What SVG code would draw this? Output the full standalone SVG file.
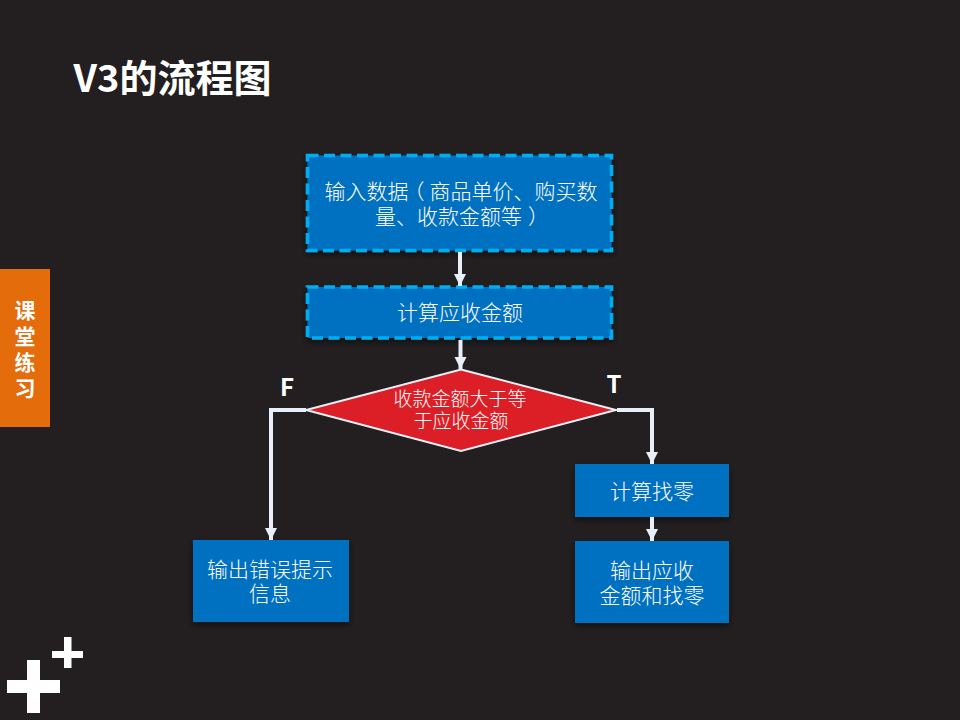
<svg xmlns="http://www.w3.org/2000/svg" width="960" height="720" viewBox="0 0 960 720">
<defs>
<filter id="sh" x="-10%" y="-20%" width="120%" height="140%"><feDropShadow dx="0" dy="3" stdDeviation="3" flood-color="#000" flood-opacity="0.5"/></filter>
<marker id="ah" markerUnits="userSpaceOnUse" markerWidth="14" markerHeight="14" refX="12" refY="7" orient="auto"><path d="M0 1L12 7L0 13Z" fill="#e9eff8"/></marker>
</defs>
<style>
text{font-family:"Noto Sans CJK SC","Liberation Sans",sans-serif;fill:#fff;text-anchor:middle}
.b{fill:#0070c0;filter:url(#sh)}
.d{stroke:#00aeef;stroke-width:3.500;stroke-dasharray:11 5.500}
.t{font-size:21px;font-weight:300}
.l{font-size:24px;font-weight:700}
.s{font-size:21px;font-weight:700}
.c{fill:none;stroke:#e9eff8;stroke-width:4;marker-end:url(#ah)}
</style>
<rect width="960" height="720" fill="#231f20"/>
<text id="title" x="172.500" y="92" font-size="38" font-weight="700">V3的流程图</text>
<g id="side"><rect x="0" y="269" width="50" height="158" fill="#e46c0a"/>
<text class="s" x="25" y="318">课</text><text class="s" x="25" y="344">堂</text><text class="s" x="25" y="370">练</text><text class="s" x="25" y="396">习</text></g>
<g id="n1"><rect class="b d" x="307.500" y="155.500" width="304" height="95"/>
<text class="t" x="461" y="199">输入数据<tspan dx="-5">（</tspan><tspan dx="5">商品单价、购买数</tspan></text><text class="t" x="462" y="224">量、收款金额等<tspan dx="6">）</tspan></text></g>
<g id="n2"><rect class="b d" x="307.500" y="287" width="304" height="51"/>
<text class="t" x="460" y="320">计算应收金额</text></g>
<g id="n3"><path d="M461 369.500L616 410L461 451L306 410Z" fill="#dc1f26" stroke="#e9eff8" stroke-width="2"/>
<text x="460" y="406" font-size="19" font-weight="300">收款金额大于等</text><text x="461" y="428" font-size="19" font-weight="300">于应收金额</text></g>
<text class="l" x="287" y="396">F</text>
<text class="l" x="614" y="393">T</text>
<g id="n4"><rect class="b" x="193" y="540" width="156" height="82"/>
<text class="t" x="270" y="577">输出错误提示</text><text class="t" x="270" y="601">信息</text></g>
<g id="n5"><rect class="b" x="575" y="464" width="154" height="53"/>
<text class="t" x="652" y="499">计算找零</text></g>
<g id="n6"><rect class="b" x="575" y="541" width="154" height="82"/>
<text class="t" x="652" y="578">输出应收</text><text class="t" x="652" y="603">金额和找零</text></g>
<g id="connectors">
<path class="c" d="M460 252V286"/>
<path class="c" d="M460.500 340V369"/>
<path class="c" d="M306 410H271V540"/>
<path class="c" d="M617 410H652V464"/>
<path class="c" d="M652 517V541"/>
</g>
<g id="plus" fill="#fff">
<path d="M27 660H40V680H60V693H40V713H27V693H7V680H27Z"/>
<path d="M64 637H71.500V651H83V658H71.500V668H64V658H52V651H64Z"/>
</g>
</svg>
